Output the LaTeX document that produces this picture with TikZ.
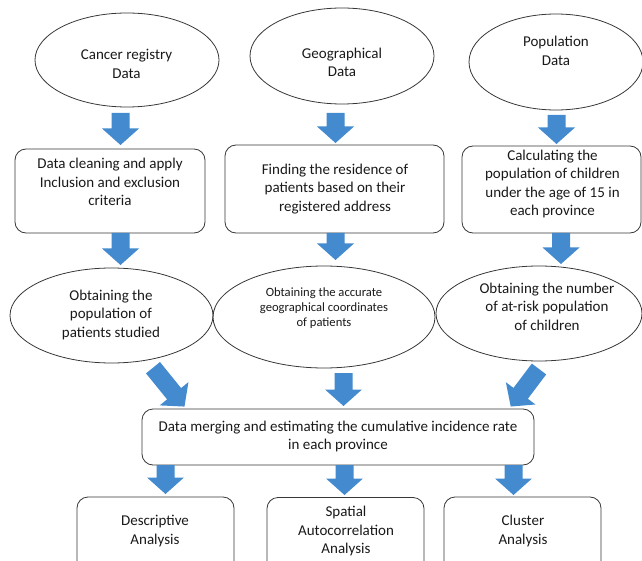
\documentclass[tikz,border=0pt]{standalone}
\usepackage{fontspec}
\setmainfont{Carlito}
\usetikzlibrary{shapes.geometric}
\definecolor{ablue}{RGB}{68,138,206}
\definecolor{edgec}{RGB}{55,55,55}
\definecolor{txtc}{RGB}{25,25,25}
\tikzset{
  pics/barrow/.style={code={
    \fill[ablue] (-9,0) -- (-9,#1-16.5) -- (-18.5,#1-16.5) -- (0,#1) -- (18.5,#1-16.5) -- (9,#1-16.5) -- (9,0) -- cycle;
  }}
}
\begin{document}
\begin{tikzpicture}[x=1pt,y=-1pt,
  shp/.style={draw=edgec, line width=0.8pt, inner sep=0pt},
  ell/.style={shp, ellipse},
  rbox/.style={shp, rectangle, rounded corners=11pt},
  txt/.style={align=center, font=\fontsize{15}{18.6}\selectfont, text=txtc, inner sep=0pt},
  smalltxt/.style={txt, font=\fontsize{12.6}{15.2}\selectfont}
]
\path[use as bounding box] (0,0) rectangle (642,561);
\clip (0,0) rectangle (642,561);

% top ellipses
\node[ell, minimum width=184pt, minimum height=94pt] (e1) at (127,60) {};
\node[ell, minimum width=184pt, minimum height=96pt] (e2) at (342,56) {};
\node[ell, minimum width=174pt, minimum height=96pt] (e3) at (556,62) {};
\node[txt] (t1) at (126.5,64) {Cancer registry\\Data};
\node[txt] (t2) at (342,62.5) {Geographical\\Data};
\node[txt] (t3) at (556,51) {Population\\Data};

% row 1 boxes
\node[rbox, minimum width=190pt, minimum height=84pt] (b1) at (110,191) {};
\node[rbox, minimum width=219pt, minimum height=88pt] (b2) at (334.5,189) {};
\node[rbox, minimum width=179pt, minimum height=87pt] (b3) at (551.5,189.5) {};
\node[txt] (tb1) at (110,182) {Data cleaning and apply\\Inclusion and exclusion\\criteria};
\node[txt] (tb2) at (335,189) {Finding the residence of\\patients based on their\\registered address};
\node[txt] (tb3) at (552.5,184) {Calculating the\\population of children\\under the age of 15 in\\each province};

% row 2 ellipses
\node[ell, minimum width=203pt, minimum height=95pt] (e4) at (111.5,315.5) {};
\node[ell, minimum width=222pt, minimum height=102pt] (e5) at (324,317) {};
\node[ell, minimum width=206pt, minimum height=95pt] (e6) at (539,313.5) {};
\node[txt] (t4) at (111,315) {Obtaining the\\population of\\patients studied};
\node[smalltxt] (t5) at (324,308) {Obtaining the accurate\\geographical coordinates\\of patients};
\node[txt] (t6) at (547,306.5) {Obtaining the number\\of at-risk population\\of children};

% merge box
\node[rbox, minimum width=392pt, minimum height=56pt] (m) at (338,437) {};
\node[txt] (tm) at (338,436.5) {Data merging and estimating the cumulative incidence rate\\in each province};

% bottom boxes (cut by the lower edge)
\node[rbox, minimum width=157pt, minimum height=80pt] (ba) at (155.5,537) {};
\node[rbox, minimum width=157pt, minimum height=80pt] (bb) at (345.5,537.5) {};
\node[rbox, minimum width=157pt, minimum height=80pt] (bc) at (522.5,537) {};
\node[txt] (ta) at (155,531) {Descriptive\\Analysis};
\node[txt] (tbb) at (346,531) {Spatial\\Autocorrelation\\Analysis};
\node[txt] (tc) at (523,531) {Cluster\\Analysis};

% block arrows
\pic at (120.5,113) {barrow=32};
\pic at (335.5,113) {barrow=30};
\pic at (556.5,115) {barrow=29};
\pic at (120.5,233) {barrow=32};
\pic at (335.5,233) {barrow=27};
\pic at (561,233) {barrow=31};
\pic[rotate=39] at (153,367.7) {barrow=50};
\pic at (343.5,373) {barrow=33};
\pic[rotate=-37] at (539,369) {barrow=47};
\pic at (165.5,465) {barrow=29};
\pic at (344.5,465) {barrow=30};
\pic at (513.5,465) {barrow=30};
\end{tikzpicture}
\end{document}
